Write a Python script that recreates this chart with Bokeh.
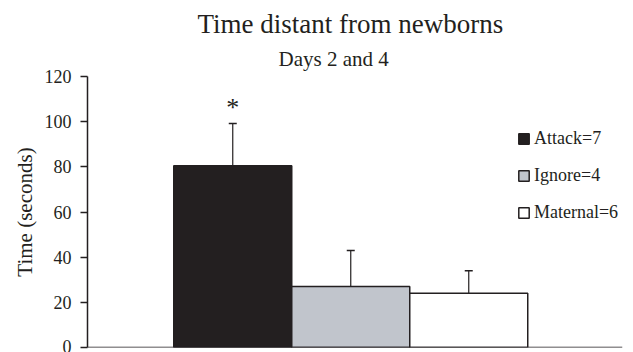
from bokeh.plotting import figure
from bokeh.models import ColumnDataSource, Range1d, FixedTicker, Title, Whisker, TeeHead, Span, Legend, LegendItem
from bokeh.core.properties import value
from bokeh.embed import file_html
from bokeh.resources import INLINE

# data
groups = ["Attack=7", "Ignore=4", "Maternal=6"]
means = [80.5, 27.0, 24.0]
errors = [18.7, 16.0, 10.0]
colors = ["#231f20", "#c1c5cc", "#ffffff"]
y_ticks = [0, 20, 40, 60, 80, 100, 120]
title_text = "Time distant from newborns"
subtitle_text = "Days 2 and 4"
y_label = "Time (seconds)"
sig_marks = ["*"]

FONT = "Liberation Serif"
INK = "#231f20"

xpos = [1, 2, 3]
x_lo, x_hi = -0.231, 4.303
src = ColumnDataSource(dict(
    x=xpos, top=means, color=colors, label=groups,
    lower=means, upper=[m + e for m, e in zip(means, errors)],
))

p = figure(width=633, height=352, output_backend="svg", toolbar_location=None,
           x_range=Range1d(x_lo, x_hi), y_range=Range1d(0, 120),
           min_border_left=87, min_border_right=11, min_border_top=76, min_border_bottom=5,
           title=None)
p.outline_line_color = None
p.xgrid.visible = False
p.ygrid.visible = False
p.xaxis.visible = False

r = p.vbar(x="x", top="top", width=1.0, bottom=0, source=src, fill_color="color",
           line_color=INK, line_width=1.5)

wh = Whisker(source=src, base="x", lower="lower", upper="upper",
             line_color=INK, line_width=1.2,
             upper_head=TeeHead(size=8, line_color=INK, line_width=1.5), lower_head=None)
p.add_layout(wh)

p.add_layout(Span(location=0, dimension="width", line_color=INK, line_width=1.5))

p.text(x=[xpos[0]], y=[means[0] + errors[0] + 7], text=sig_marks, text_font=value(FONT),
       text_font_size="26px", text_align="center", text_baseline="middle", text_color=INK)

ya = p.yaxis[0]
ya.ticker = FixedTicker(ticks=y_ticks)
ya.minor_tick_line_color = None
ya.major_tick_in = 0
ya.major_tick_out = 7
ya.axis_line_color = INK
ya.axis_line_width = 1.5
ya.major_tick_line_color = INK
ya.major_tick_line_width = 1.5
ya.major_label_text_font = FONT
ya.major_label_text_font_size = "18px"
ya.major_label_text_color = INK
ya.major_label_standoff = 9
ya.axis_label = y_label
ya.axis_label_text_font = FONT
ya.axis_label_text_font_size = "21px"
ya.axis_label_text_font_style = "normal"
ya.axis_label_text_color = INK
ya.axis_label_standoff = 5

legend = Legend(items=[LegendItem(label=g, renderers=[r], index=i) for i, g in enumerate(groups)],
                location=(430, 124), orientation="vertical",
                glyph_width=13, glyph_height=13, label_height=20, spacing=16,
                label_text_font=FONT, label_text_font_size="18px", label_text_color=INK,
                label_standoff=4, padding=0, margin=0,
                border_line_color=None, background_fill_alpha=0)
p.add_layout(legend, "center")

p.add_layout(Title(text=subtitle_text, text_font=FONT, text_font_size="21px",
                   text_font_style="normal", text_color=INK, align="left", offset=191,
                   standoff=11), "above")
p.add_layout(Title(text=title_text, text_font=FONT, text_font_size="27px",
                   text_font_style="normal", text_color=INK, align="left", offset=110,
                   standoff=2), "above")

open("out.html", "w").write(file_html(p, INLINE))
